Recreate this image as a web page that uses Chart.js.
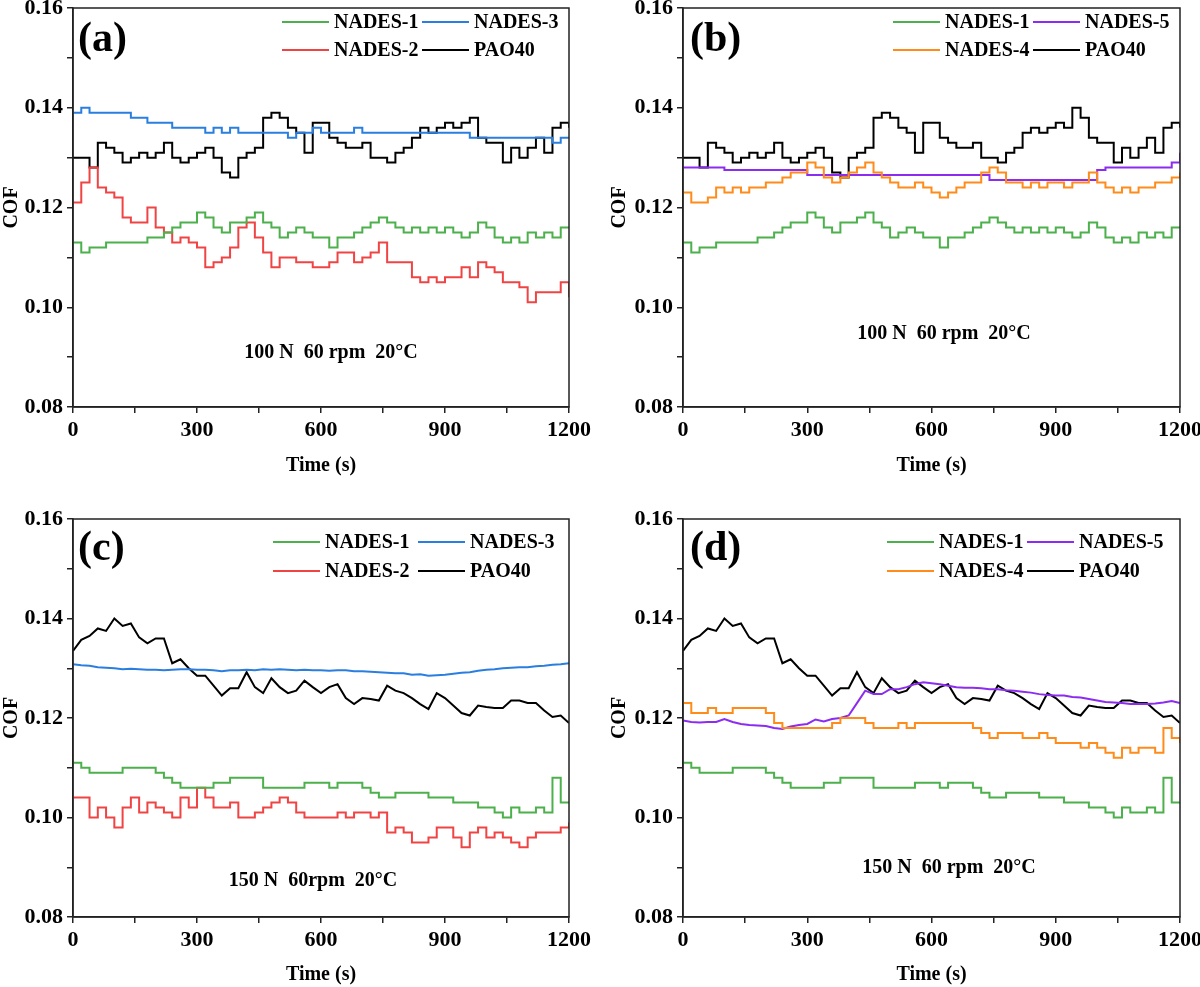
<!DOCTYPE html>
<html>
<head>
<meta charset="utf-8">
<title>COF vs time</title>
<script src="https://cdn.jsdelivr.net/npm/chart.js@4.4.1/dist/chart.umd.min.js"></script>
<style>
  html, body { margin: 0; padding: 0; background: #fff; }
  #wrap { position: relative; width: 1200px; height: 987px; overflow: hidden; }
  canvas { position: absolute; }
</style>
</head>
<body>
<div id="wrap">
  <canvas id="pa" width="600" height="490" style="left:0;top:0;width:600px;height:490px"></canvas>
  <canvas id="pb" width="600" height="490" style="left:600px;top:0;width:600px;height:490px"></canvas>
  <canvas id="pc" width="600" height="490" style="left:0;top:497px;width:600px;height:490px"></canvas>
  <canvas id="pd" width="600" height="490" style="left:600px;top:497px;width:600px;height:490px"></canvas>
</div>
<script>
// time (s), one reading every 20 s
const times = [
  0, 20, 40, 60, 80, 100, 120, 140, 160, 180,
  200, 220, 240, 260, 280, 300, 320, 340, 360, 380,
  400, 420, 440, 460, 480, 500, 520, 540, 560, 580,
  600, 620, 640, 660, 680, 700, 720, 740, 760, 780,
  800, 820, 840, 860, 880, 900, 920, 940, 960, 980,
  1000, 1020, 1040, 1060, 1080, 1100, 1120, 1140, 1160, 1180,
  1200
];

// ---- 100 N, 60 rpm, 20 C ----
const nades1_100 = [
  0.113, 0.111, 0.112, 0.112, 0.113, 0.113, 0.113, 0.113, 0.113, 0.114,
  0.114, 0.115, 0.116, 0.117, 0.117, 0.119, 0.118, 0.116, 0.115, 0.117,
  0.117, 0.118, 0.119, 0.117, 0.116, 0.114, 0.115, 0.116, 0.115, 0.114,
  0.114, 0.112, 0.114, 0.114, 0.115, 0.116, 0.117, 0.118, 0.117, 0.116,
  0.115, 0.116, 0.115, 0.116, 0.115, 0.116, 0.115, 0.114, 0.115, 0.117,
  0.116, 0.114, 0.113, 0.114, 0.113, 0.115, 0.114, 0.115, 0.114, 0.116,
  0.116
];
const nades2_100 = [
  0.121, 0.125, 0.128, 0.124, 0.123, 0.122, 0.118, 0.117, 0.117, 0.120,
  0.116, 0.115, 0.113, 0.114, 0.113, 0.112, 0.108, 0.109, 0.110, 0.112,
  0.116, 0.117, 0.114, 0.111, 0.108, 0.110, 0.110, 0.109, 0.109, 0.108,
  0.108, 0.109, 0.111, 0.111, 0.109, 0.110, 0.111, 0.113, 0.109, 0.109,
  0.109, 0.106, 0.105, 0.106, 0.105, 0.106, 0.106, 0.108, 0.106, 0.109,
  0.108, 0.107, 0.105, 0.105, 0.104, 0.101, 0.103, 0.103, 0.103, 0.105,
  0.102
];
const nades3_100 = [
  0.139, 0.140, 0.139, 0.139, 0.139, 0.139, 0.139, 0.138, 0.138, 0.137,
  0.137, 0.137, 0.136, 0.136, 0.136, 0.136, 0.135, 0.136, 0.135, 0.136,
  0.135, 0.135, 0.135, 0.135, 0.135, 0.135, 0.134, 0.135, 0.135, 0.136,
  0.135, 0.135, 0.135, 0.135, 0.136, 0.135, 0.135, 0.135, 0.135, 0.135,
  0.135, 0.135, 0.135, 0.135, 0.135, 0.135, 0.135, 0.135, 0.134, 0.134,
  0.134, 0.134, 0.134, 0.134, 0.134, 0.134, 0.134, 0.134, 0.133, 0.134,
  0.134
];
const nades4_100 = [
  0.123, 0.121, 0.121, 0.122, 0.124, 0.123, 0.124, 0.123, 0.124, 0.124,
  0.125, 0.125, 0.126, 0.127, 0.127, 0.129, 0.128, 0.126, 0.125, 0.126,
  0.127, 0.128, 0.129, 0.127, 0.126, 0.125, 0.124, 0.124, 0.125, 0.124,
  0.123, 0.122, 0.123, 0.124, 0.125, 0.125, 0.127, 0.128, 0.127, 0.125,
  0.125, 0.124, 0.125, 0.124, 0.125, 0.125, 0.124, 0.125, 0.125, 0.127,
  0.125, 0.124, 0.123, 0.124, 0.123, 0.124, 0.124, 0.125, 0.125, 0.126,
  0.127
];
const nades5_100 = [
  0.128, 0.128, 0.128, 0.128, 0.128, 0.1275, 0.1275, 0.1275, 0.1275, 0.1275,
  0.1275, 0.1275, 0.1275, 0.1275, 0.1275, 0.1265, 0.1265, 0.1265, 0.1265, 0.1265,
  0.1265, 0.1265, 0.1265, 0.1265, 0.1265, 0.1265, 0.1265, 0.1265, 0.1265, 0.1265,
  0.1265, 0.1265, 0.1265, 0.1265, 0.1265, 0.1265, 0.1265, 0.1255, 0.1255, 0.1255,
  0.1255, 0.1255, 0.1255, 0.1255, 0.1255, 0.1255, 0.1255, 0.1255, 0.1255, 0.1255,
  0.1275, 0.128, 0.128, 0.128, 0.128, 0.128, 0.128, 0.128, 0.128, 0.129,
  0.131
];
const pao40_100a = [
  0.130, 0.130, 0.128, 0.133, 0.132, 0.131, 0.129, 0.130, 0.131, 0.130,
  0.131, 0.133, 0.130, 0.129, 0.130, 0.131, 0.132, 0.130, 0.127, 0.126,
  0.130, 0.131, 0.132, 0.138, 0.139, 0.138, 0.136, 0.135, 0.131, 0.137,
  0.137, 0.134, 0.133, 0.132, 0.132, 0.133, 0.130, 0.130, 0.129, 0.131,
  0.132, 0.134, 0.136, 0.135, 0.136, 0.137, 0.136, 0.137, 0.138, 0.134,
  0.133, 0.133, 0.129, 0.132, 0.130, 0.132, 0.134, 0.131, 0.136, 0.137,
  0.136
];
const pao40_100b = [
  0.130, 0.130, 0.128, 0.133, 0.132, 0.131, 0.129, 0.130, 0.131, 0.130,
  0.131, 0.133, 0.130, 0.129, 0.130, 0.131, 0.132, 0.130, 0.127, 0.126,
  0.130, 0.131, 0.132, 0.138, 0.139, 0.138, 0.136, 0.135, 0.131, 0.137,
  0.137, 0.134, 0.133, 0.132, 0.132, 0.133, 0.130, 0.130, 0.129, 0.131,
  0.132, 0.135, 0.136, 0.135, 0.136, 0.137, 0.136, 0.140, 0.138, 0.134,
  0.133, 0.133, 0.129, 0.132, 0.130, 0.132, 0.134, 0.131, 0.136, 0.137,
  0.136
];

// ---- 150 N, 60 rpm, 20 C ----
const nades1_150 = [
  0.111, 0.110, 0.109, 0.109, 0.109, 0.109, 0.110, 0.110, 0.110, 0.110,
  0.109, 0.108, 0.107, 0.106, 0.106, 0.106, 0.106, 0.107, 0.107, 0.108,
  0.108, 0.108, 0.108, 0.106, 0.106, 0.106, 0.106, 0.106, 0.107, 0.107,
  0.107, 0.106, 0.107, 0.107, 0.107, 0.106, 0.105, 0.104, 0.104, 0.105,
  0.105, 0.105, 0.105, 0.104, 0.104, 0.104, 0.103, 0.103, 0.103, 0.102,
  0.102, 0.101, 0.100, 0.102, 0.101, 0.101, 0.102, 0.101, 0.108, 0.103,
  0.103
];
const nades2_150 = [
  0.104, 0.104, 0.100, 0.102, 0.100, 0.098, 0.102, 0.104, 0.101, 0.103,
  0.102, 0.101, 0.100, 0.104, 0.102, 0.106, 0.104, 0.102, 0.102, 0.103,
  0.100, 0.100, 0.101, 0.102, 0.103, 0.104, 0.103, 0.101, 0.100, 0.100,
  0.100, 0.100, 0.101, 0.100, 0.101, 0.101, 0.100, 0.101, 0.097, 0.098,
  0.097, 0.095, 0.095, 0.096, 0.098, 0.098, 0.096, 0.094, 0.097, 0.098,
  0.096, 0.097, 0.096, 0.095, 0.094, 0.096, 0.097, 0.097, 0.097, 0.098,
  0.099
];
const nades3_150 = [
  0.1308, 0.1306, 0.1305, 0.1302, 0.1301, 0.1300, 0.1298, 0.1299, 0.1298, 0.1297,
  0.1297, 0.1296, 0.1297, 0.1298, 0.1298, 0.1297, 0.1297, 0.1296, 0.1294, 0.1296,
  0.1296, 0.1297, 0.1296, 0.1298, 0.1297, 0.1298, 0.1297, 0.1296, 0.1297, 0.1296,
  0.1296, 0.1295, 0.1296, 0.1296, 0.1294, 0.1294, 0.1293, 0.1292, 0.1291, 0.1290,
  0.1290, 0.1287, 0.1288, 0.1285, 0.1286, 0.1287, 0.1289, 0.1291, 0.1292, 0.1295,
  0.1297, 0.1298, 0.1300, 0.1301, 0.1302, 0.1302, 0.1304, 0.1305, 0.1307, 0.1308,
  0.1310
];
const nades4_150 = [
  0.123, 0.121, 0.121, 0.122, 0.121, 0.121, 0.122, 0.122, 0.122, 0.122,
  0.121, 0.119, 0.118, 0.118, 0.118, 0.118, 0.118, 0.118, 0.119, 0.120,
  0.120, 0.120, 0.119, 0.118, 0.118, 0.118, 0.119, 0.118, 0.119, 0.119,
  0.119, 0.119, 0.119, 0.119, 0.119, 0.118, 0.117, 0.116, 0.117, 0.117,
  0.117, 0.116, 0.116, 0.117, 0.116, 0.115, 0.115, 0.115, 0.114, 0.115,
  0.114, 0.113, 0.112, 0.114, 0.113, 0.114, 0.114, 0.113, 0.118, 0.116,
  0.115
];
const nades5_150 = [
  0.1195, 0.1192, 0.1191, 0.1192, 0.1192, 0.1198, 0.1192, 0.1188, 0.1186, 0.1185,
  0.1184, 0.1180, 0.1178, 0.1183, 0.1186, 0.1188, 0.1197, 0.1193, 0.1198, 0.1200,
  0.1205, 0.1230, 0.1255, 0.1248, 0.1248, 0.1258, 0.1258, 0.1262, 0.1268, 0.1272,
  0.1270, 0.1268, 0.1265, 0.1262, 0.1261, 0.1261, 0.1260, 0.1258, 0.1258, 0.1256,
  0.1255, 0.1253, 0.1251, 0.1248, 0.1246, 0.1245, 0.1245, 0.1242, 0.1241, 0.1238,
  0.1235, 0.1232, 0.1231, 0.1230, 0.1228, 0.1228, 0.1228, 0.1229, 0.1231, 0.1234,
  0.1230
];
const pao40_150 = [
  0.1335, 0.1357, 0.1365, 0.1380, 0.1375, 0.1400, 0.1385, 0.1390, 0.1362, 0.1350,
  0.1360, 0.1360, 0.1310, 0.1318, 0.1300, 0.1285, 0.1285, 0.1265, 0.1245, 0.1260,
  0.1260, 0.1292, 0.1262, 0.1250, 0.1280, 0.1262, 0.1250, 0.1255, 0.1275, 0.1262,
  0.1250, 0.1262, 0.1268, 0.1240, 0.1228, 0.1240, 0.1238, 0.1235, 0.1265, 0.1255,
  0.1250, 0.1240, 0.1228, 0.1218, 0.1250, 0.1240, 0.1225, 0.1210, 0.1205, 0.1225,
  0.1222, 0.1220, 0.1220, 0.1235, 0.1235, 0.1230, 0.1230, 0.1215, 0.1202, 0.1205,
  0.1190
];

const GREEN = '#4cb04c', RED = '#f04444', BLUE = '#2a7ee0',
      ORANGE = '#ff8c1a', PURPLE = '#8b2cf0', BLACK = '#000000';
const SERIF = '"Liberation Serif", "Times New Roman", serif';

Chart.defaults.font.family = SERIF;
Chart.defaults.font.weight = 'bold';
Chart.defaults.font.size = 22;
Chart.defaults.color = '#000';

// frame, panel letter, condition note and the two-column legend
const panelDecor = {
  id: 'panelDecor',
  afterDatasetsDraw(chart, args, opts) {
    const { ctx, chartArea: a } = chart;
    ctx.save();
    ctx.strokeStyle = '#222';
    ctx.lineWidth = 1.5;
    ctx.strokeRect(a.left, a.top, a.right - a.left, a.bottom - a.top);

    ctx.fillStyle = '#000';
    ctx.textBaseline = 'middle';
    ctx.textAlign = 'left';
    ctx.font = 'bold 42px ' + SERIF;
    ctx.fillText(opts.letter, opts.letterX, opts.letterY);

    ctx.font = 'bold 20px ' + SERIF;
    ctx.textAlign = 'center';
    ctx.fillText(opts.note, opts.noteX, opts.noteY);

    ctx.textAlign = 'left';
    chart.data.datasets.forEach((ds, i) => {
      const [col, row] = opts.slots[i];
      const x = opts.legendX[col], y = opts.legendY[row];
      ctx.strokeStyle = ds.borderColor;
      ctx.lineWidth = 2;
      ctx.beginPath();
      ctx.moveTo(x, y);
      ctx.lineTo(x + 47, y);
      ctx.stroke();
      ctx.fillText(ds.label, x + 52, y + 1);
    });
    ctx.restore();
  }
};

function makePanel(id, cfg) {
  const axisGrid = { display: true, drawOnChartArea: false, drawTicks: true, tickLength: 6, color: '#222', lineWidth: 1.5 };
  const axisBorder = { display: true, color: '#222', width: 1.5 };

  return new Chart(document.getElementById(id), {
    type: 'line',
    data: {
      datasets: cfg.series.map(s => ({
        label: s.name,
        data: times.map((t, i) => ({ x: t, y: s.values[i] })),
        borderColor: s.color,
        borderWidth: 2,
        pointRadius: 0,
        stepped: s.stepped,
        fill: false
      }))
    },
    options: {
      responsive: false,
      animation: false,
      events: [],
      layout: { padding: { left: 0, top: cfg.top, right: cfg.right, bottom: 0 } },
      plugins: {
        legend: { display: false },
        tooltip: { enabled: false },
        panelDecor: cfg.decor
      },
      scales: {
        x: {
          type: 'linear',
          min: 0,
          max: 1200,
          afterFit: s => { s.height = cfg.xh; s.paddingLeft = 0; s.paddingRight = 0; },
          ticks: {
            stepSize: 150,
            autoSkip: false,
            maxRotation: 0,
            padding: 4,
            callback: v => (v % 300 === 0 ? String(v) : '')
          },
          grid: axisGrid,
          border: axisBorder,
          title: { display: true, text: 'Time (s)', font: { size: 20, weight: 'bold' }, padding: { top: 0, bottom: cfg.xtPad } }
        },
        y: {
          min: 0.08,
          max: 0.16,
          afterFit: s => { s.width = cfg.yw; s.paddingTop = 0; s.paddingBottom = 0; },
          ticks: {
            stepSize: 0.01,
            autoSkip: false,
            padding: 4,
            callback: v => (Math.round(v * 100) % 2 === 0 ? v.toFixed(2) : '')
          },
          grid: axisGrid,
          border: axisBorder,
          title: { display: true, text: 'COF', font: { size: 20, weight: 'bold' }, padding: { top: cfg.ytPad, bottom: 0 } }
        }
      }
    },
    plugins: [panelDecor]
  });
}

const slots = [[0, 0], [0, 1], [1, 0], [1, 1]];

makePanel('pa', {
  top: 8, right: 31, yw: 73, xh: 83, xtPad: 12, ytPad: 0,
  series: [
    { name: 'NADES-1', values: nades1_100, color: GREEN, stepped: true },
    { name: 'NADES-2', values: nades2_100, color: RED, stepped: true },
    { name: 'NADES-3', values: nades3_100, color: BLUE, stepped: true },
    { name: 'PAO40', values: pao40_100a, color: BLACK, stepped: true }
  ],
  decor: { letter: '(a)', letterX: 78, letterY: 40, note: '100 N  60 rpm  20°C', noteX: 331, noteY: 353,
           legendX: [282, 422], legendY: [22, 50], slots: slots }
});

makePanel('pb', {
  top: 8, right: 20, yw: 83, xh: 83, xtPad: 12, ytPad: 8,
  series: [
    { name: 'NADES-1', values: nades1_100, color: GREEN, stepped: true },
    { name: 'NADES-4', values: nades4_100, color: ORANGE, stepped: true },
    { name: 'NADES-5', values: nades5_100, color: PURPLE, stepped: true },
    { name: 'PAO40', values: pao40_100b, color: BLACK, stepped: true }
  ],
  decor: { letter: '(b)', letterX: 90, letterY: 40, note: '100 N  60 rpm  20°C', noteX: 344, noteY: 334,
           legendX: [293, 433], legendY: [22, 50], slots: slots }
});

makePanel('pc', {
  top: 22, right: 31, yw: 73, xh: 70, xtPad: 0, ytPad: 0,
  series: [
    { name: 'NADES-1', values: nades1_150, color: GREEN, stepped: true },
    { name: 'NADES-2', values: nades2_150, color: RED, stepped: true },
    { name: 'NADES-3', values: nades3_150, color: BLUE, stepped: false },
    { name: 'PAO40', values: pao40_150, color: BLACK, stepped: false }
  ],
  decor: { letter: '(c)', letterX: 78, letterY: 52, note: '150 N  60rpm  20°C', noteX: 313, noteY: 384,
           legendX: [273, 418], legendY: [45, 74], slots: slots }
});

makePanel('pd', {
  top: 22, right: 20, yw: 83, xh: 70, xtPad: 0, ytPad: 8,
  series: [
    { name: 'NADES-1', values: nades1_150, color: GREEN, stepped: true },
    { name: 'NADES-4', values: nades4_150, color: ORANGE, stepped: true },
    { name: 'NADES-5', values: nades5_150, color: PURPLE, stepped: false },
    { name: 'PAO40', values: pao40_150, color: BLACK, stepped: false }
  ],
  decor: { letter: '(d)', letterX: 90, letterY: 52, note: '150 N  60 rpm  20°C', noteX: 349, noteY: 371,
           legendX: [287, 427], legendY: [45, 74], slots: slots }
});
</script>
</body>
</html>
